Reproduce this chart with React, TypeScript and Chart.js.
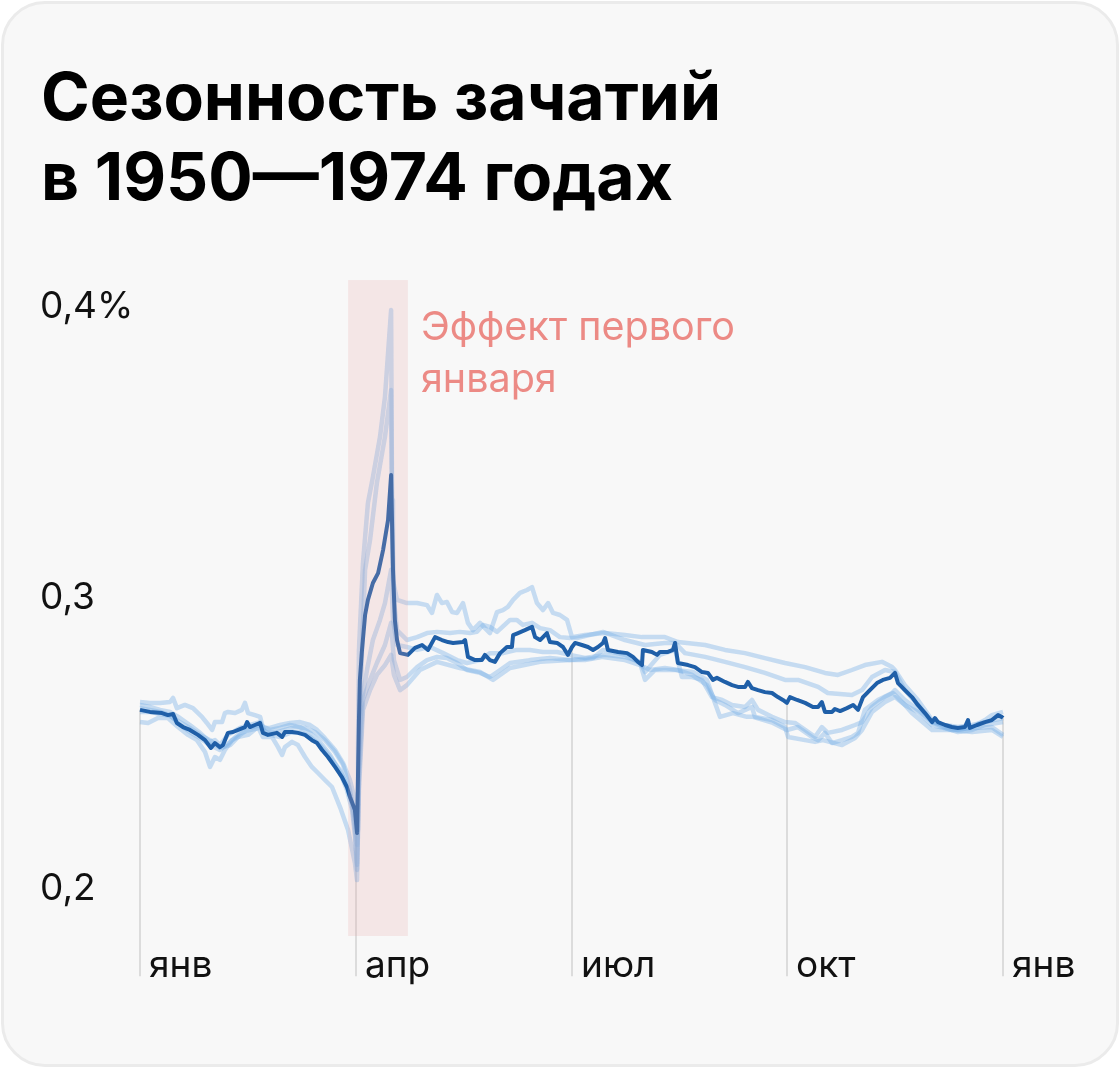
import { useEffect, useRef } from "react";
import { Chart, registerables } from "chart.js";

Chart.register(...registerables);

// ---- axis / annotation data ----
const xTickDays = [0, 91.25, 182.5, 273.75, 365];
const xTickLabels = ["янв", "апр", "июл", "окт", "янв"];
const yTickValues = [0.2, 0.3, 0.4];
const yTickLabels = ["0,2", "0,3", "0,4%"];
const bandDays = [88, 113.3];
const bandValues = [0.1842, 0.4096];
const gridBottomValue = 0.1704;
const annotationLines = ["Эффект первого", "января"];

// ---- average 1950–1974 (share of conceptions per day, %) ----
const meanDays = [
  0, 4.2, 9.3, 11.8, 14.0, 15.6, 18.2, 21.1, 24.5, 27.5, 30.0, 31.7, 33.8, 35.1, 37.2, 39.3, 42.3, 44.4, 45.3, 46.5,
  48.6, 50.8, 52.0, 54.1, 57.9, 60.1, 61.3, 64.3, 66.8, 69.8, 72.7, 74.9, 77.0, 79.5, 82.5, 85.4, 87.5, 88.8, 90.9, 91.8,
  92.6, 93.0, 93.9, 95.2, 96.4, 98.5, 100.7, 102.8, 104.9, 106.2, 107.0, 107.8, 108.7, 110.0, 113.3, 116.3, 119.3, 121.8, 124.8, 127.7,
  130.3, 132.4, 136.6, 137.5, 138.7, 141.7, 144.6, 145.9, 148.0, 150.1, 152.3, 155.2, 157.3, 157.8, 159.9, 162.8, 165.8, 167.1, 169.2, 172.1,
  173.4, 176.4, 178.9, 181.0, 182.7, 184.0, 186.9, 189.5, 191.6, 193.7, 195.8, 196.7, 197.9, 202.2, 206.0, 208.5, 210.6, 212.3, 212.7, 216.5,
  218.7, 219.9, 223.3, 225.4, 226.3, 227.5, 231.8, 234.7, 237.7, 240.2, 242.3, 244.0, 247.4, 250.4, 252.9, 255.9, 257.1, 258.8, 261.4, 264.3,
  267.3, 269.8, 271.9, 273.6, 274.9, 277.9, 281.3, 284.6, 286.8, 288.4, 289.7, 292.7, 293.9, 296.1, 299.0, 301.6, 303.7, 305.8, 308.7, 311.7,
  314.2, 317.2, 319.3, 320.6, 323.5, 326.5, 329.0, 332.0, 335.0, 336.2, 337.5, 340.5, 343.4, 345.9, 348.9, 350.2, 351.0, 354.0, 357.4, 360.3,
  362.9, 364.6, 365.0,
];
const meanValues = [
  0.2619, 0.2612, 0.2608, 0.2601, 0.2605, 0.2574, 0.256, 0.255, 0.2533, 0.2515, 0.2488, 0.2505, 0.2491, 0.2498, 0.254, 0.2543, 0.2553, 0.256, 0.2577, 0.256,
  0.2567, 0.2574, 0.254, 0.2533, 0.254, 0.2526, 0.2543, 0.2543, 0.254, 0.2533, 0.2515, 0.2505, 0.2481, 0.2457, 0.2423, 0.2388, 0.2354, 0.232, 0.2275, 0.2196,
  0.2584, 0.2722, 0.2825, 0.2945, 0.2997, 0.3055, 0.3089, 0.3168, 0.3271, 0.3426, 0.31, 0.2928, 0.2859, 0.2814, 0.2808, 0.2832, 0.2842, 0.2825, 0.2869, 0.2859,
  0.2852, 0.2849, 0.2852, 0.2859, 0.2801, 0.279, 0.279, 0.2808, 0.279, 0.2784, 0.2814, 0.2835, 0.2835, 0.2876, 0.2883, 0.2893, 0.2904, 0.2869, 0.2859, 0.2883,
  0.2852, 0.2849, 0.2835, 0.2808, 0.2835, 0.2849, 0.2842, 0.2835, 0.2825, 0.2835, 0.2849, 0.2866, 0.2825, 0.2818, 0.2814, 0.2801, 0.2784, 0.2773, 0.2825, 0.2818,
  0.2808, 0.2818, 0.2818, 0.2825, 0.2849, 0.278, 0.2773, 0.2766, 0.2749, 0.2746, 0.2722, 0.2729, 0.2715, 0.2704, 0.2698, 0.2698, 0.2715, 0.2694, 0.2687, 0.268,
  0.2677, 0.2663, 0.2653, 0.2643, 0.2663, 0.2653, 0.2643, 0.2629, 0.2629, 0.2646, 0.2612, 0.2612, 0.2622, 0.2615, 0.2625, 0.2636, 0.2619, 0.2663, 0.2687, 0.2711,
  0.2722, 0.2729, 0.2746, 0.2711, 0.2687, 0.2663, 0.2636, 0.2608, 0.2577, 0.2591, 0.2577, 0.2567, 0.256, 0.2557, 0.256, 0.2584, 0.2557, 0.2567, 0.2577, 0.2584,
  0.2601, 0.2594, 0.2591,
];

// ---- individual five-year periods ----
const periodADays = [
  0, 4.2, 8.5, 12.7, 14.0, 15.6, 19.0, 22.4, 26.2, 28.3, 30.5, 31.7, 34.7, 35.9, 37.2, 40.2, 43.1, 44.4, 45.7, 48.6,
  50.8, 52.0, 55.0, 59.2, 63.4, 67.7, 71.9, 74.9, 78.2, 82.5, 85.9, 88.8, 90.9, 91.8, 92.2, 92.6, 94.3, 96.4, 98.5, 101.5,
  103.6, 106.2, 106.6, 107.0, 108.7, 112.9, 117.2, 121.4, 123.5, 125.6, 127.7, 129.8, 132.0, 134.1, 136.6, 138.7, 140.8, 143.8, 145.9, 148.0,
  151.0, 153.5, 155.6, 157.8, 160.7, 163.7, 165.8, 167.9, 170.4, 172.6, 174.7, 177.6, 180.6, 182.7, 188.2, 196.7, 205.1, 212.3, 222.0, 227.5,
  239.0, 247.4, 255.9, 264.3, 272.8, 281.3, 289.7, 295.2, 301.1, 306.6, 313.8, 318.1, 319.3, 323.5, 329.0, 335.0, 340.5, 345.9, 351.9, 357.4,
  360.3, 365.0,
];
const periodAValues = [
  0.2646, 0.2643, 0.2643, 0.2646, 0.266, 0.2625, 0.2636, 0.2625, 0.2595, 0.2574, 0.255, 0.2577, 0.2577, 0.2608, 0.2612, 0.2608, 0.2619, 0.2643, 0.2608, 0.2601,
  0.2595, 0.2557, 0.2557, 0.2567, 0.2574, 0.2577, 0.2567, 0.255, 0.2522, 0.2481, 0.2436, 0.2378, 0.2309, 0.2206, 0.2481, 0.2825, 0.3124, 0.333, 0.3419, 0.3557,
  0.3694, 0.3993, 0.334, 0.3065, 0.2997, 0.2986, 0.2986, 0.2979, 0.2952, 0.3014, 0.2986, 0.299, 0.2955, 0.2952, 0.2986, 0.2918, 0.2893, 0.2918, 0.29, 0.2883,
  0.2955, 0.2962, 0.2973, 0.2997, 0.3021, 0.3031, 0.3041, 0.2986, 0.2962, 0.2986, 0.2952, 0.2945, 0.2928, 0.2869, 0.2876, 0.2883, 0.2876, 0.2869, 0.2869, 0.2852,
  0.2842, 0.2825, 0.2814, 0.2797, 0.278, 0.2766, 0.2746, 0.2739, 0.2756, 0.2773, 0.2784, 0.2766, 0.2756, 0.2704, 0.2653, 0.2584, 0.256, 0.255, 0.256, 0.2584,
  0.2601, 0.2612,
];

const periodBDays = [
  0, 4.2, 8.5, 12.7, 16.9, 21.1, 25.4, 29.6, 31.7, 33.8, 37.2, 42.3, 46.5, 50.8, 52.9, 57.1, 61.3, 65.6, 69.8, 74.0,
  78.2, 82.5, 85.9, 88.8, 90.9, 91.8, 92.6, 93.9, 95.2, 97.3, 100.2, 103.6, 106.2, 106.6, 107.4, 108.7, 112.9, 117.2, 121.4, 125.6,
  131.1, 135.3, 139.6, 142.5, 145.1, 148.0, 151.0, 156.5, 159.4, 162.0, 165.8, 169.2, 173.4, 177.6, 181.9, 184.8, 195.8, 205.1, 213.6, 222.0,
  226.3, 230.5, 239.0, 247.4, 255.9, 264.3, 272.8, 278.3, 286.8, 290.9, 301.1, 305.4, 309.6, 315.1, 319.3, 323.5, 329.0, 335.0, 340.5, 345.9,
  351.9, 357.4, 365.0,
];
const periodBValues = [
  0.2636, 0.2629, 0.2619, 0.2612, 0.2591, 0.2567, 0.254, 0.2509, 0.2515, 0.2498, 0.2533, 0.2557, 0.2567, 0.2577, 0.2543, 0.254, 0.255, 0.256, 0.2557, 0.2543,
  0.2515, 0.2474, 0.243, 0.2344, 0.2241, 0.2155, 0.2447, 0.2825, 0.31, 0.3203, 0.3399, 0.3557, 0.3718, 0.3271, 0.2997, 0.2893, 0.2859, 0.2869, 0.2883, 0.2887,
  0.2883, 0.2887, 0.2883, 0.2887, 0.2911, 0.2904, 0.2887, 0.2928, 0.2928, 0.2911, 0.2918, 0.29, 0.2893, 0.2869, 0.2866, 0.2866, 0.2887, 0.2859, 0.2842, 0.2849,
  0.2849, 0.2814, 0.2801, 0.2784, 0.2766, 0.2746, 0.2722, 0.2722, 0.2698, 0.2677, 0.267, 0.2687, 0.2732, 0.2756, 0.2749, 0.2687, 0.2636, 0.2577, 0.2567, 0.256,
  0.2567, 0.2577, 0.2591,
];

const periodCDays = [
  0, 4.2, 8.5, 12.7, 16.9, 21.1, 25.4, 29.6, 33.8, 38.1, 42.3, 46.5, 50.8, 55.0, 59.2, 63.4, 67.7, 71.9, 76.1, 80.4,
  84.6, 87.5, 89.7, 90.9, 91.8, 92.6, 93.9, 96.0, 98.5, 101.5, 103.6, 106.2, 107.0, 108.7, 112.9, 117.2, 122.7, 128.2, 134.1, 138.3,
  143.8, 148.0, 153.5, 159.4, 164.9, 170.4, 176.4, 181.9, 188.2, 196.7, 205.1, 211.5, 213.6, 219.9, 226.3, 229.2, 233.5, 237.7, 241.9, 246.2,
  250.4, 255.9, 258.8, 261.4, 267.3, 272.8, 277.0, 281.3, 285.5, 288.4, 290.9, 296.9, 302.4, 305.4, 309.6, 315.1, 318.5, 323.5, 326.5, 335.0,
  343.4, 351.9, 360.3, 365.0,
];
const periodCValues = [
  0.2625, 0.2619, 0.2612, 0.2601, 0.2567, 0.2543, 0.2522, 0.2498, 0.2481, 0.2509, 0.254, 0.255, 0.2557, 0.2533, 0.2526, 0.254, 0.2543, 0.2526, 0.2498, 0.2457,
  0.2412, 0.2361, 0.2292, 0.2206, 0.2086, 0.2447, 0.2653, 0.2756, 0.2859, 0.2928, 0.2986, 0.31, 0.2928, 0.2842, 0.2835, 0.2825, 0.2835, 0.2814, 0.279, 0.278,
  0.279, 0.2814, 0.2814, 0.2825, 0.2825, 0.2818, 0.2818, 0.2808, 0.2797, 0.2808, 0.2801, 0.2784, 0.2749, 0.2808, 0.2825, 0.2732, 0.2732, 0.2722, 0.2663, 0.2653,
  0.2636, 0.2629, 0.2653, 0.2619, 0.2595, 0.2577, 0.2574, 0.255, 0.2526, 0.256, 0.254, 0.255, 0.2567, 0.2577, 0.2629, 0.2663, 0.2677, 0.2636, 0.2608, 0.255,
  0.255, 0.2557, 0.256, 0.2533,
];

const periodDDays = [
  0, 3.4, 7.6, 11.8, 16.1, 20.3, 24.1, 27.5, 29.6, 31.7, 33.8, 35.9, 38.9, 41.4, 45.7, 49.9, 52.0, 55.8, 58.4, 60.1,
  61.3, 64.3, 66.8, 69.8, 72.7, 75.3, 78.2, 81.2, 84.6, 88.0, 90.9, 91.8, 92.6, 94.3, 97.3, 100.2, 103.6, 106.2, 107.4, 110.0,
  112.9, 117.2, 121.4, 125.6, 129.8, 134.1, 138.3, 143.8, 148.0, 152.3, 156.5, 164.9, 173.4, 181.9, 191.6, 195.8, 205.1, 211.5, 213.6, 217.8,
  226.3, 233.9, 239.8, 243.2, 245.3, 250.8, 256.7, 259.3, 267.7, 273.6, 278.3, 284.2, 286.8, 289.7, 292.7, 296.9, 301.1, 303.7, 306.6, 312.1,
  318.1, 319.3, 323.5, 329.0, 335.0, 340.5, 345.9, 351.9, 357.4, 365.0,
];
const periodDValues = [
  0.2577, 0.2574, 0.2591, 0.2591, 0.256, 0.2533, 0.2515, 0.2474, 0.2423, 0.2457, 0.2447, 0.2481, 0.2515, 0.2526, 0.2533, 0.256, 0.2526, 0.2526, 0.2491, 0.2464,
  0.2491, 0.2509, 0.2498, 0.2457, 0.2423, 0.2402, 0.2378, 0.2354, 0.2285, 0.2206, 0.2093, 0.2034, 0.2378, 0.2653, 0.2722, 0.278, 0.2842, 0.2918, 0.279, 0.2722,
  0.2732, 0.2766, 0.279, 0.2801, 0.2797, 0.278, 0.2756, 0.2746, 0.2732, 0.2756, 0.278, 0.279, 0.2797, 0.279, 0.2797, 0.2825, 0.2808, 0.278, 0.2722, 0.2756,
  0.2756, 0.2749, 0.2722, 0.2643, 0.2595, 0.2608, 0.2595, 0.2595, 0.2574, 0.255, 0.256, 0.2526, 0.2515, 0.254, 0.2505, 0.2515, 0.2526, 0.254, 0.2619, 0.2653,
  0.2677, 0.2687, 0.2653, 0.2619, 0.2577, 0.2557, 0.2543, 0.255, 0.2567, 0.2577,
];

const periodEDays = [
  0, 4.2, 8.5, 12.7, 16.9, 21.1, 25.4, 29.6, 33.8, 38.1, 42.3, 46.5, 50.8, 55.0, 59.2, 63.4, 67.7, 71.9, 76.1, 80.4,
  84.6, 87.5, 89.7, 90.9, 91.8, 92.6, 94.3, 97.3, 100.2, 103.6, 106.2, 107.4, 110.0, 112.9, 118.4, 125.6, 135.3, 143.8, 149.3, 156.5,
  169.2, 181.9, 188.2, 195.8, 205.1, 211.5, 215.7, 222.0, 227.5, 233.5, 239.8, 243.2, 247.4, 252.9, 258.8, 260.1, 267.3, 272.8, 274.1, 281.3,
  285.5, 288.8, 296.9, 302.4, 305.4, 309.6, 315.1, 319.3, 323.5, 329.0, 335.0, 343.4, 351.9, 360.3, 365.0,
];
const periodEValues = [
  0.2612, 0.2612, 0.2605, 0.2598, 0.2577, 0.2557, 0.2533, 0.2515, 0.2488, 0.2498, 0.2533, 0.2557, 0.2567, 0.255, 0.2557, 0.2567, 0.256, 0.254, 0.2509, 0.2464,
  0.2405, 0.2344, 0.2275, 0.2189, 0.2069, 0.2344, 0.2619, 0.2687, 0.2739, 0.2773, 0.2808, 0.2739, 0.2687, 0.2704, 0.2756, 0.2784, 0.2763, 0.2749, 0.2722, 0.2763,
  0.2784, 0.279, 0.279, 0.2801, 0.279, 0.2773, 0.2756, 0.2763, 0.2756, 0.2739, 0.2704, 0.2653, 0.2636, 0.2608, 0.2629, 0.2595, 0.2584, 0.256, 0.2526, 0.2515,
  0.2509, 0.2515, 0.2498, 0.2522, 0.255, 0.2612, 0.2646, 0.2663, 0.2636, 0.2612, 0.2567, 0.255, 0.2543, 0.255, 0.2526,
];

const lightSeries = [
  [periodADays, periodAValues],
  [periodBDays, periodBValues],
  [periodCDays, periodCValues],
  [periodDDays, periodDValues],
  [periodEDays, periodEValues],
];

const toPoints = (days: number[], values: number[]) => days.map((d, i) => ({ x: d, y: values[i] }));

const interp = (days: number[], values: number[], d: number) => {
  if (d <= days[0]) return values[0];
  for (let i = 1; i < days.length; i++) {
    if (days[i] >= d) {
      const t = (d - days[i - 1]) / (days[i] - days[i - 1] || 1);
      return values[i - 1] + t * (values[i] - values[i - 1]);
    }
  }
  return values[values.length - 1];
};

const FONT = "Inter, 'Noto Sans', sans-serif";

const decor = {
  id: "decor",
  beforeDatasetsDraw(chart: any) {
    const { ctx, scales } = chart;
    const x = scales.x;
    const y = scales.y;
    ctx.save();
    ctx.strokeStyle = "#dcdcdc";
    ctx.lineWidth = 2;
    xTickDays.forEach((d) => {
      const px = Math.round(x.getPixelForValue(d));
      const top = y.getPixelForValue(interp(meanDays, meanValues, d));
      ctx.beginPath();
      ctx.moveTo(px, y.getPixelForValue(gridBottomValue));
      ctx.lineTo(px, top);
      ctx.stroke();
    });
    ctx.restore();
  },
  afterDatasetsDraw(chart: any) {
    const { ctx, scales } = chart;
    const x = scales.x;
    const y = scales.y;
    const l = x.getPixelForValue(bandDays[0]);
    const r = x.getPixelForValue(bandDays[1]);
    const t = y.getPixelForValue(bandValues[1]);
    const b = y.getPixelForValue(bandValues[0]);
    ctx.save();
    ctx.fillStyle = "rgba(228, 160, 160, 0.2)";
    ctx.fillRect(l, t, r - l, b - t);
    ctx.fillStyle = "#ec8a85";
    ctx.font = `39.5px ${FONT}`;
    ctx.textBaseline = "alphabetic";
    ctx.textAlign = "left";
    annotationLines.forEach((line, i) => {
      ctx.fillText(line, r + 13, t + 60 + i * 52);
    });
    ctx.restore();
  },
  afterDraw(chart: any) {
    const { ctx, scales } = chart;
    const x = scales.x;
    const y = scales.y;
    ctx.save();
    ctx.fillStyle = "#111111";
    ctx.font = `37px ${FONT}`;
    ctx.textAlign = "left";
    ctx.textBaseline = "middle";
    yTickValues.forEach((v, i) => {
      ctx.fillText(yTickLabels[i], 40, y.getPixelForValue(v) - 1);
    });
    ctx.textBaseline = "alphabetic";
    const base = y.getPixelForValue(0.2) + 87;
    xTickDays.forEach((d, i) => {
      ctx.fillText(xTickLabels[i], Math.round(x.getPixelForValue(d)) + 9, base);
    });
    ctx.restore();
  },
};

export default function App() {
  const ref = useRef<HTMLCanvasElement | null>(null);

  useEffect(() => {
    if (!ref.current) return;
    const datasets: any[] = [
      {
        data: toPoints(meanDays, meanValues),
        borderColor: "#1f5fa8",
        borderWidth: 4,
        pointRadius: 0,
        tension: 0,
        clip: false,
        borderJoinStyle: "round",
      },
      ...lightSeries.map(([d, v]) => ({
        data: toPoints(d, v),
        borderColor: "rgba(120, 176, 230, 0.4)",
        borderWidth: 4.5,
        pointRadius: 0,
        tension: 0,
        clip: false,
        borderJoinStyle: "round",
      })),
    ];
    const chart = new Chart(ref.current, {
      type: "line",
      data: { datasets },
      options: {
        responsive: false,
        animation: false,
        devicePixelRatio: 1,
        layout: { padding: { left: 140, right: 117, top: 308, bottom: 178 } },
        plugins: { legend: { display: false }, tooltip: { enabled: false } },
        scales: {
          x: { type: "linear", min: 0, max: 365, display: false },
          y: { type: "linear", min: 0.2, max: 0.4, display: false },
        },
      },
      plugins: [decor],
    });
    return () => chart.destroy();
  }, []);

  return (
    <div style={{ position: "fixed", left: 0, top: 0, width: 1120, height: 1068, background: "#ffffff" }}>
      <div
        style={{
          position: "absolute",
          left: 1,
          top: 1,
          width: 1118,
          height: 1066,
          boxSizing: "border-box",
          border: "3px solid #ebebeb",
          borderRadius: 44,
          background: "#f8f8f8",
        }}
      />
      <div
        style={{
          position: "absolute",
          left: 41,
          top: 56,
          fontFamily: FONT,
          fontWeight: 700,
          fontSize: 66,
          lineHeight: "80px",
          color: "#000",
          whiteSpace: "nowrap",
        }}
      >
        Сезонность зачатий
        <br />в 1950—1974 годах
      </div>
      <canvas ref={ref} width={1120} height={1068} style={{ position: "absolute", left: 0, top: 0 }} />
    </div>
  );
}
